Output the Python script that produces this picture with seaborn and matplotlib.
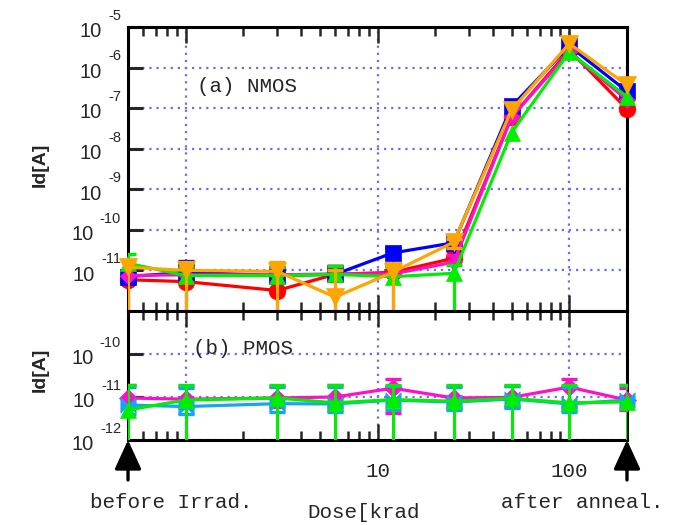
import numpy as np
import pandas as pd
import matplotlib
matplotlib.use("Agg")
import matplotlib.pyplot as plt
import matplotlib.transforms as mtransforms
from matplotlib.path import Path
import seaborn as sns

# Dose points [krad]; 0.5 = before irradiation, 200 = after annealing
dose = [0.5, 1, 3, 6, 12, 25, 50, 100, 200]

# (a) NMOS drain leakage current [A]
nmos_red = [5.9e-12, 5.3e-12, 3.2e-12, 8.0e-12, 9.0e-12, 2.0e-11, 6.0e-8, 2.7e-6, 9.5e-8]
nmos_blue = [7.0e-12, 9.0e-12, 7.5e-12, 8.0e-12, 2.7e-11, 4.8e-11, 1.1e-7, 3.4e-6, 2.6e-7]
nmos_magenta = [7.5e-12, 7.8e-12, 7.8e-12, 8.2e-12, 8.2e-12, 1.6e-11, 6.0e-8, 2.4e-6, 1.6e-7]
nmos_green = [1.5e-11, 7.5e-12, 7.5e-12, 8.0e-12, 7.0e-12, 8.5e-12, 2.5e-8, 2.4e-6, 1.9e-7]
nmos_orange = [1.2e-11, 1.0e-11, 9.5e-12, 2.2e-12, 9.0e-12, 5.0e-11, 9.0e-8, 3.9e-6, 3.7e-7]

# NMOS error-bar bounds for the irradiation steps (0.5 ... 25 krad)
nmos_red_hi = [1.0e-11, 1.3e-11, 6.0e-12, 1.3e-11, 1.5e-11, 3.0e-11]
nmos_blue_hi = [1.3e-11, 1.7e-11, 1.2e-11, 1.3e-11, 3.5e-11, 6.0e-11]
nmos_magenta_hi = [1.1e-11, 1.2e-11, 1.2e-11, 1.3e-11, 1.3e-11, 2.4e-11]
nmos_green_hi = [2.5e-11, 1.2e-11, 1.2e-11, 1.3e-11, 1.2e-11, 1.4e-11]
nmos_orange_hi = [1.6e-11, 1.6e-11, 1.6e-11, 1.0e-11, 1.5e-11, 6.0e-11]
nmos_lo = [1e-14, 1e-14, 1e-14, 1e-14, 1e-14, 1e-14]
nmos_orange_lo = [1e-14, 1e-14, 1e-14, 1e-14, 1e-14, 3.5e-11]

# (b) PMOS drain leakage current [A]
pmos_magenta = [9.5e-12, 8.9e-12, 9.5e-12, 1.0e-11, 1.6e-11, 9.5e-12, 9.8e-12, 1.7e-11, 8.5e-12]
pmos_sky = [6.5e-12, 6.0e-12, 7.0e-12, 6.9e-12, 8.5e-12, 7.6e-12, 9.0e-12, 6.9e-12, 8.5e-12]
pmos_green = [5.0e-12, 8.5e-12, 9.5e-12, 7.3e-12, 8.7e-12, 8.0e-12, 9.3e-12, 7.3e-12, 7.7e-12]

pmos_magenta_hi = [1.9e-11, 1.8e-11, 1.8e-11, 1.9e-11, 2.6e-11, 1.8e-11, 1.8e-11, 2.6e-11, 1.6e-11]
pmos_magenta_lo = [6.0e-12, 6.0e-12, 6.0e-12, 6.0e-12, 4.2e-12, 6.0e-12, 6.0e-12, 6.0e-12, 5.0e-12]
pmos_sky_hi = [1.7e-11, 1.6e-11, 1.7e-11, 1.7e-11, 1.8e-11, 1.7e-11, 1.8e-11, 1.7e-11, 1.9e-11]
pmos_sky_lo = [4.0e-12, 4.0e-12, 4.5e-12, 4.5e-12, 5.0e-12, 5.0e-12, 5.5e-12, 4.5e-12, 5.5e-12]
pmos_green_hi = [1.9e-11, 1.9e-11, 1.9e-11, 1.9e-11, 1.9e-11, 1.9e-11, 1.9e-11, 1.9e-11, 1.9e-11]
pmos_green_lo = [1e-14] * 9

x_major = [1, 10, 100]
x_major_labels = ["", "10", "100"]
top_yticks = [1e-11, 1e-10, 1e-9, 1e-8, 1e-7, 1e-6, 1e-5]
bot_yticks = [1e-12, 1e-11, 1e-10]

sns.set_style("ticks")
plt.rcParams["font.family"] = ["Liberation Sans", "DejaVu Sans"]

RED, BLUE, MAG, GREEN, ORANGE, SKY = "#ff0000", "#0000ff", "#ff10c8", "#00ee00", "#ffa500", "#1aa3f5"
GRID = "#6b6bff"
MONO = "Liberation Mono"

# horizontal bow-tie marker
bowtie = Path([(-1, -1), (-1, 1), (0, 0), (1, 1), (1, -1), (0, 0), (-1, -1)],
              [Path.MOVETO, Path.LINETO, Path.LINETO, Path.LINETO, Path.LINETO, Path.LINETO, Path.CLOSEPOLY])

fig = plt.figure(figsize=(6.89, 5.25), dpi=100)
ax_top = fig.add_axes([0.1858, 0.4076, 0.7242, 0.5410])
ax_bot = fig.add_axes([0.1858, 0.1619, 0.7242, 0.2457])


def style_axis(ax, ylo, yhi, yticks):
    ax.set_xscale("log")
    ax.set_yscale("log")
    ax.set_xlim(0.5, 200)
    ax.set_ylim(ylo, yhi)
    for sp in ax.spines.values():
        sp.set_visible(True)
        sp.set_linewidth(2.2)
        sp.set_color("black")
    ax.set_xticks(x_major)
    ax.xaxis.set_minor_locator(matplotlib.ticker.LogLocator(base=10, subs=np.arange(2, 10), numticks=20))
    ax.set_yticks(yticks)
    ax.yaxis.set_minor_locator(matplotlib.ticker.NullLocator())
    ax.tick_params(axis="x", which="major", direction="in", length=11.5, width=1.8,
                   top=True, bottom=True)
    ax.tick_params(axis="x", which="minor", direction="in", length=6.5, width=1.8,
                   top=True, bottom=True)
    ax.tick_params(axis="y", which="major", direction="in", length=11, width=2.2,
                   left=True, right=False, labelleft=False)
    ax.grid(True, which="major", color=GRID, linestyle=(0, (1, 2.2)), linewidth=1.6)
    ax.set_axisbelow(True)


def draw_series(ax, y, color, marker, ms, hi, lo, n_err, z):
    df = pd.DataFrame({"dose": dose, "Id": y})
    sns.lineplot(data=df, x="dose", y="Id", ax=ax, color=color, linewidth=2.3,
                 marker=marker, markersize=ms, markeredgecolor=color, markeredgewidth=0.5,
                 markerfacecolor=color, errorbar=None, zorder=z, clip_on=False)
    xe = dose[:n_err]
    ye = np.array(y[:n_err])
    yerr = np.vstack([ye - np.array(lo), np.array(hi) - ye])
    ax.errorbar(xe, ye, yerr=yerr, fmt="none", ecolor=color, elinewidth=2.2,
                capsize=5.5, capthick=2.4, zorder=z + 0.5)


def power_labels(ax, ticks, base_dy):
    # "10" with a raised exponent, drawn to the left of the spine
    tr = mtransforms.blended_transform_factory(ax.transAxes, ax.transData)
    for v in ticks:
        e = int(round(np.log10(v)))
        exp_txt = ax.text(0, v, "-%d" % abs(e) if e < 0 else "%d" % e,
                          transform=mtransforms.offset_copy(tr, fig=fig, x=-5, y=base_dy + 11.5, units="points"),
                          ha="right", va="center", fontsize=10.5, clip_on=False)
        ax.annotate("10", xy=(0, 0.5), xycoords=exp_txt, xytext=(-4.5, -11.5),
                    textcoords="offset points", ha="right", va="center", fontsize=14.5,
                    annotation_clip=False)


style_axis(ax_top, 1e-12, 1e-5, top_yticks)
style_axis(ax_bot, 1e-12, 1e-9, bot_yticks)

draw_series(ax_top, nmos_red, RED, "o", 12, nmos_red_hi, nmos_lo, 6, 3)
draw_series(ax_top, nmos_blue, BLUE, "s", 11, nmos_blue_hi, nmos_lo, 6, 4)
draw_series(ax_top, nmos_magenta, MAG, "D", 8, nmos_magenta_hi, nmos_lo, 6, 5)
draw_series(ax_top, nmos_green, GREEN, "^", 12, nmos_green_hi, nmos_lo, 6, 6)
draw_series(ax_top, nmos_orange, ORANGE, "v", 13, nmos_orange_hi, nmos_orange_lo, 6, 7)

draw_series(ax_bot, pmos_magenta, MAG, "D", 9, pmos_magenta_hi, pmos_magenta_lo, 9, 3)
draw_series(ax_bot, pmos_sky, SKY, bowtie, 11, pmos_sky_hi, pmos_sky_lo, 9, 4)
draw_series(ax_bot, pmos_green, GREEN, "^", 12, pmos_green_hi, pmos_green_lo, 9, 5)

for ax in (ax_top, ax_bot):
    ax.set_xlabel("")
    ax.set_ylabel("")

power_labels(ax_top, top_yticks, -3.5)
power_labels(ax_bot, bot_yticks, -3.5)

ax_top.tick_params(axis="x", labelbottom=False)
ax_bot.set_xticks(x_major)
ax_bot.set_xticklabels(x_major_labels)
ax_bot.tick_params(axis="x", which="major", labelsize=15, pad=16)
for lab in ax_bot.get_xticklabels():
    lab.set_fontfamily(MONO)
ax_bot.xaxis.set_minor_formatter(matplotlib.ticker.NullFormatter())

# panel titles
ax_top.text(0.138, 0.792, "(a) NMOS", transform=ax_top.transAxes, fontfamily=MONO,
            fontsize=15, va="center", ha="left")
ax_bot.text(0.13, 0.713, "(b) PMOS", transform=ax_bot.transAxes, fontfamily=MONO,
            fontsize=15, va="center", ha="left", zorder=10)

# axis titles
fig.text(0.058, 1 - 165 / 525, "Id[A]", rotation=90, fontsize=14, fontweight="bold",
         ha="center", va="center")
fig.text(0.058, 1 - 370 / 525, "Id[A]", rotation=90, fontsize=14, fontweight="bold",
         ha="center", va="center")
fig.text(0.2482, 1 - 503 / 525, "before Irrad.", fontfamily=MONO, fontsize=15,
         ha="center", va="center")
fig.text(0.845, 1 - 503 / 525, "after anneal.", fontfamily=MONO, fontsize=15,
         ha="center", va="center")
fig.text(0.4456, 1 - 512 / 525, "Dose[krad", fontfamily=MONO, fontsize=15,
         ha="left", va="center")

# arrows marking the pre-irradiation and post-anneal points
trans = mtransforms.blended_transform_factory(ax_bot.transData, ax_bot.transAxes)
for xa in (dose[0], dose[-1]):
    ax_bot.annotate("", xy=(xa, 0.0), xycoords=trans, xytext=(xa, -0.31), textcoords=trans,
                    arrowprops=dict(arrowstyle="-|>,head_length=1.2,head_width=0.55",
                                    color="black", lw=2.4, mutation_scale=15,
                                    shrinkA=0, shrinkB=0),
                    annotation_clip=False)

fig.savefig("out.png", dpi=100)
